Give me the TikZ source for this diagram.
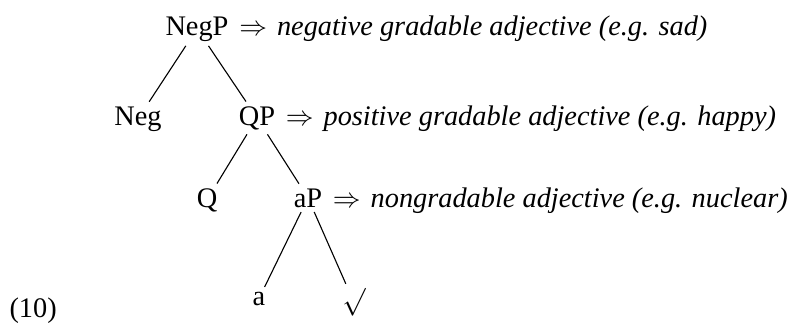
\documentclass[tikz,border=0pt]{standalone}
\usepackage{fontspec}
\setmainfont{Liberation Serif}
\usetikzlibrary{positioning}
\tikzset{
    % tree labels
    cat/.style={inner sep=1.5pt, anchor=base},
    note/.style={anchor=base west, inner sep=0pt},
    % branches
    branch/.style={draw=black, line width=0.4pt}
}
\newcommand{\gloss}[1]{$\Rightarrow$\hspace{0.35em}\textit{#1}}

\begin{document}
\begin{tikzpicture}[x=0.36pt, y=-0.36pt, font=\fontsize{10.2pt}{13pt}\selectfont]
    \useasboundingbox (0,0) rectangle (799,323);

    % Example number
    \node[note] (exnum) at (9,317) {(10)};

    % Tree nodes
    \node[cat] (negp) at (197,35) {NegP};
    \node[cat] (neg) at (138,125) {Neg};
    \node[cat] (qp) at (257,125) {QP};
    \node[cat] (q) at (207,207) {Q};
    \node[cat] (ap) at (308,207) {aP};
    \node[cat] (a) at (259,305) {a};
    \node[cat, anchor=south] (root) at (354,321) {$\surd$};

    % Meanings
    \node[note] (negnote) at ([xshift=2pt]negp.base east) {\gloss{negative gradable adjective (e.g. sad)}};
    \node[note] (qnote) at ([xshift=2pt]qp.base east) {\gloss{positive gradable adjective (e.g. happy)}};
    \node[note] (anote) at ([xshift=2pt]ap.base east) {\gloss{nongradable adjective (e.g. nuclear)}};

    % Branches
    \draw[branch] (negp) -- (neg);
    \draw[branch] (negp) -- (qp);
    \draw[branch] (qp) -- (q);
    \draw[branch] (qp) -- (ap);
    \draw[branch] (ap) -- (a);
    \draw[branch] (ap) -- (root);
\end{tikzpicture}
\end{document}
